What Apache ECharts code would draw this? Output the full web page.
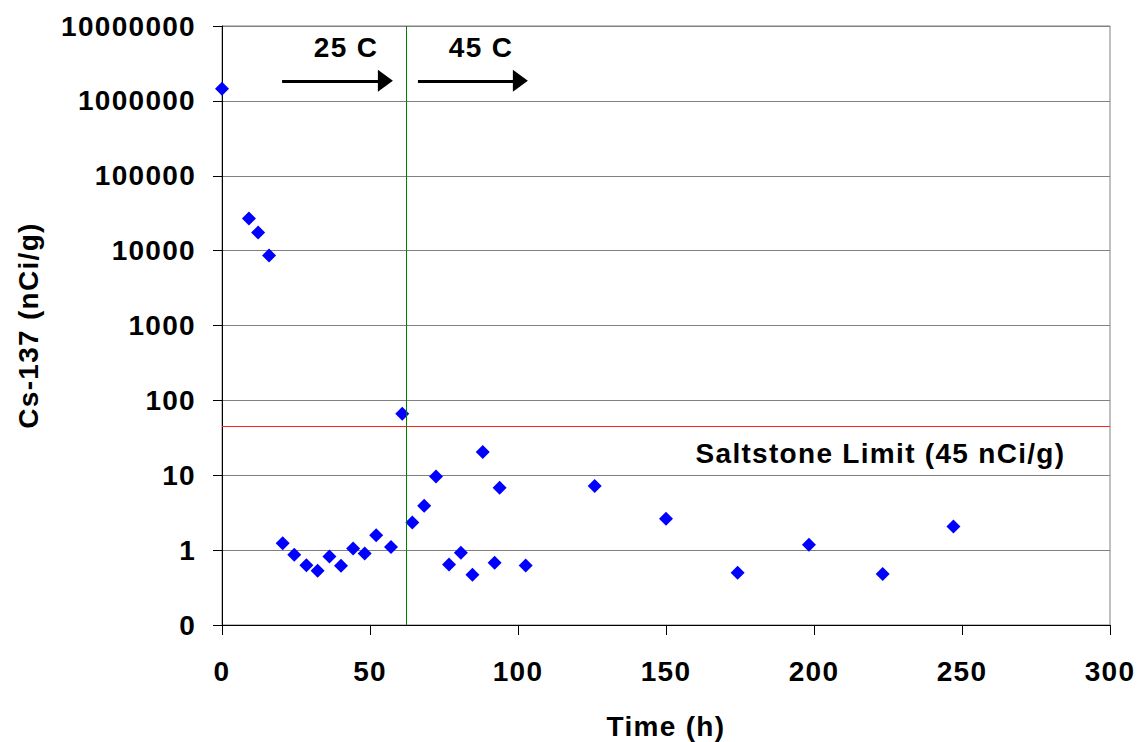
<!DOCTYPE html>
<html>
<head>
<meta charset="utf-8">
<script src="https://cdn.jsdelivr.net/npm/echarts@6/dist/echarts.min.js"></script>
<style>
  html, body { margin: 0; padding: 0; background: #fff; }
  #chart { width: 1140px; height: 742px; }
  #chart text { letter-spacing: 1.3px; }
</style>
</head>
<body>
<div id="chart"></div>
<script>
// Cs-137 in filtrate vs time
const timeHours = [0, 9.1, 12.2, 15.9, 20.5, 24.4, 28.5, 32.3, 36.3, 40.2, 44.3, 48.2, 52.1, 57.1,
  60.9, 64.3, 68.3, 72.3, 76.7, 80.7, 84.6, 88.1, 92.1, 93.8, 102.6, 125.9, 150, 174.2, 198.3, 223.2, 247.1]
const cs137 = [1450000, 26900, 17400, 8600, 1.24, 0.87, 0.63, 0.53, 0.82, 0.62, 1.05, 0.9, 1.58, 1.1,
  66.5, 2.34, 3.9, 9.6, 0.645, 0.92, 0.47, 20.5, 0.68, 6.8, 0.625, 7.2, 2.62, 0.5, 1.18, 0.48, 2.07]
const yTickLabels = ['0', '1', '10', '100', '1000', '10000', '100000', '1000000', '10000000']
const saltstoneLimit = 45
const tempChangeHour = 62.4

const font = 'Liberation Sans, Arial, sans-serif'
const chart = echarts.init(document.getElementById('chart'), null, { renderer: 'svg' })

const points = timeHours.map((t, i) => [t, cs137[i]])
const arrowStyle = { lineStyle: { color: '#000', width: 3, type: 'solid' }, itemStyle: { color: '#000' } }

const option = {
  animation: false,
  textStyle: { fontFamily: font },
  grid: {
    left: 222,
    right: 30,
    top: 26,
    bottom: 117,
    outerBoundsMode: 'none',
    containLabel: false,
    show: true,
    borderColor: '#808080',
    borderWidth: 1
  },
  xAxis: {
    type: 'value',
    min: 0,
    max: 300,
    interval: 50,
    name: 'Time (h)',
    nameLocation: 'middle',
    nameGap: 87,
    nameTextStyle: { color: '#000', fontSize: 28, fontWeight: 'bold', fontFamily: font },
    axisLine: { show: true, lineStyle: { color: '#000', width: 1 } },
    axisTick: { show: true, length: 10, lineStyle: { color: '#000' } },
    splitLine: { show: false },
    axisLabel: { color: '#000', fontSize: 28, fontWeight: 'bold', margin: 32, fontFamily: font }
  },
  yAxis: {
    type: 'log',
    logBase: 10,
    min: 0.1,
    max: 10000000,
    interval: 1,
    name: 'Cs-137 (nCi/g)',
    nameLocation: 'middle',
    nameRotate: 90,
    nameGap: 180,
    nameTextStyle: { color: '#000', fontSize: 28, fontWeight: 'bold', fontFamily: font },
    axisLine: { show: true, lineStyle: { color: '#000', width: 1 } },
    axisTick: { show: true, length: 9, lineStyle: { color: '#000' } },
    splitLine: { show: true, lineStyle: { color: '#808080', width: 1 } },
    axisLabel: {
      color: '#000',
      fontSize: 28,
      fontWeight: 'bold',
      margin: 26,
      fontFamily: font,
      formatter: (v) => {
        const idx = Math.round(Math.log10(v)) + 1
        return yTickLabels[idx] !== undefined ? yTickLabels[idx] : ''
      }
    }
  },
  series: [
    {
      name: 'Cs-137',
      type: 'scatter',
      symbol: 'diamond',
      symbolSize: 14,
      itemStyle: { color: '#0000ff', opacity: 1 },
      data: points,
      silent: true
    },
    {
      name: 'notes',
      type: 'line',
      data: [],
      silent: true,
      markLine: {
        silent: true,
        symbol: 'none',
        label: { show: false },
        data: [
          { yAxis: saltstoneLimit, lineStyle: { color: '#ff2020', width: 1, type: 'solid' } },
          { xAxis: tempChangeHour, lineStyle: { color: '#008000', width: 1, type: 'solid' } },
          [
            Object.assign({ coord: [20.3, 1850000], symbol: 'none' }, arrowStyle),
            Object.assign({ coord: [55.2, 1850000], symbol: 'triangle', symbolSize: [22, 15] }, arrowStyle)
          ],
          [
            Object.assign({ coord: [66.2, 1850000], symbol: 'none' }, arrowStyle),
            Object.assign({ coord: [100.8, 1850000], symbol: 'triangle', symbolSize: [22, 15] }, arrowStyle)
          ]
        ]
      },
      markPoint: {
        silent: true,
        symbol: 'circle',
        symbolSize: 1,
        itemStyle: { color: 'transparent' },
        label: { show: true, color: '#000', fontSize: 28, fontWeight: 'bold', fontFamily: font },
        data: [
          { coord: [41.9, 5090000], value: '25 C', label: { position: 'inside', formatter: '25 C' } },
          { coord: [87.5, 5090000], value: '45 C', label: { position: 'inside', formatter: '45 C' } },
          { coord: [285.1, 19.6], value: 'limit', label: { position: 'left', distance: 0, formatter: 'Saltstone Limit (45 nCi/g)' } }
        ]
      }
    }
  ]
}

chart.setOption(option)
</script>
</body>
</html>
